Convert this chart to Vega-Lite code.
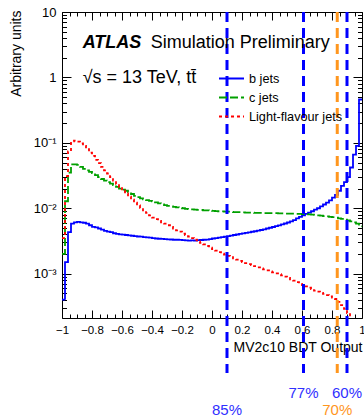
{
"$schema": "https://vega.github.io/schema/vega-lite/v6.json",
"width": 300, "height": 306,
"autosize": "none",
"padding": {"left": 62, "top": 12, "right": 2, "bottom": 100},
"background": "white",
"config": {
  "view": {"stroke": "#000", "strokeWidth": 1},
  "font": "Liberation Sans",
  "axis": {"grid": false, "domain": false, "tickColor": "#000", "labelColor": "#000", "titleColor": "#000", "labelFont": "Liberation Sans", "titleFont": "Liberation Sans", "titleFontWeight": "normal"}
},
"datasets": {
  "h": [
{"x":-1,"b":4.0e-4,"c":2.0e-3,"l":3.5e-3},
{"x":-0.98,"b":1.5e-3,"c":1.28e-2,"l":3.1e-2},
{"x":-0.96,"b":4.3e-3,"c":3.5e-2,"l":7.4e-2},
{"x":-0.94,"b":5.8e-3,"c":4.7e-2,"l":0.105},
{"x":-0.92,"b":6.1e-3,"c":4.7e-2,"l":0.108},
{"x":-0.90,"b":6.2e-3,"c":4.6e-2,"l":0.104},
{"x":-0.88,"b":6.1e-3,"c":4.3e-2,"l":0.098},
{"x":-0.86,"b":6.0e-3,"c":4.0e-2,"l":0.09},
{"x":-0.84,"b":5.8e-3,"c":3.8e-2,"l":0.08},
{"x":-0.82,"b":5.5e-3,"c":3.6e-2,"l":0.071},
{"x":-0.80,"b":5.2e-3,"c":3.45e-2,"l":0.063},
{"x":-0.78,"b":5.1e-3,"c":3.2e-2,"l":0.055},
{"x":-0.76,"b":4.9e-3,"c":3.0e-2,"l":0.049},
{"x":-0.74,"b":4.7e-3,"c":2.8e-2,"l":0.043},
{"x":-0.72,"b":4.5e-3,"c":2.65e-2,"l":0.038},
{"x":-0.70,"b":4.4e-3,"c":2.5e-2,"l":0.034},
{"x":-0.68,"b":4.3e-3,"c":2.38e-2,"l":0.030},
{"x":-0.66,"b":4.15e-3,"c":2.25e-2,"l":0.0265},
{"x":-0.64,"b":4.05e-3,"c":2.12e-2,"l":0.0235},
{"x":-0.62,"b":4.0e-3,"c":2.0e-2,"l":0.021},
{"x":-0.60,"b":3.95e-3,"c":1.92e-2,"l":0.0188},
{"x":-0.58,"b":3.9e-3,"c":1.85e-2,"l":0.0168},
{"x":-0.56,"b":3.85e-3,"c":1.75e-2,"l":0.015},
{"x":-0.54,"b":3.8e-3,"c":1.65e-2,"l":0.0135},
{"x":-0.52,"b":3.75e-3,"c":1.55e-2,"l":0.0122},
{"x":-0.50,"b":3.7e-3,"c":1.48e-2,"l":0.0111},
{"x":-0.48,"b":3.68e-3,"c":1.42e-2,"l":0.0101},
{"x":-0.46,"b":3.62e-3,"c":1.37e-2,"l":0.0093},
{"x":-0.44,"b":3.58e-3,"c":1.33e-2,"l":0.0085},
{"x":-0.42,"b":3.55e-3,"c":1.3e-2,"l":0.0078},
{"x":-0.40,"b":3.5e-3,"c":1.27e-2,"l":0.0072},
{"x":-0.38,"b":3.45e-3,"c":1.23e-2,"l":0.0068},
{"x":-0.36,"b":3.42e-3,"c":1.19e-2,"l":0.0064},
{"x":-0.34,"b":3.4e-3,"c":1.15e-2,"l":0.0061},
{"x":-0.32,"b":3.38e-3,"c":1.12e-2,"l":0.0058},
{"x":-0.30,"b":3.35e-3,"c":1.09e-2,"l":0.0055},
{"x":-0.28,"b":3.33e-3,"c":1.07e-2,"l":0.0052},
{"x":-0.26,"b":3.3e-3,"c":1.05e-2,"l":0.0049},
{"x":-0.24,"b":3.3e-3,"c":1.03e-2,"l":0.0046},
{"x":-0.22,"b":3.28e-3,"c":1.01e-2,"l":0.0044},
{"x":-0.20,"b":3.25e-3,"c":1.0e-2,"l":0.0041},
{"x":-0.18,"b":3.22e-3,"c":9.8e-3,"l":0.0039},
{"x":-0.16,"b":3.2e-3,"c":9.7e-3,"l":0.0037},
{"x":-0.14,"b":3.22e-3,"c":9.6e-3,"l":0.0035},
{"x":-0.12,"b":3.2e-3,"c":9.5e-3,"l":0.0033},
{"x":-0.10,"b":3.25e-3,"c":9.45e-3,"l":0.0031},
{"x":-0.08,"b":3.27e-3,"c":9.4e-3,"l":0.00295},
{"x":-0.06,"b":3.3e-3,"c":9.3e-3,"l":0.0028},
{"x":-0.04,"b":3.32e-3,"c":9.25e-3,"l":0.00265},
{"x":-0.02,"b":3.38e-3,"c":9.2e-3,"l":0.0025},
{"x":0.00,"b":3.45e-3,"c":9.1e-3,"l":0.00237},
{"x":0.02,"b":3.5e-3,"c":9.05e-3,"l":0.00225},
{"x":0.04,"b":3.55e-3,"c":9.0e-3,"l":0.00213},
{"x":0.06,"b":3.62e-3,"c":8.95e-3,"l":0.00203},
{"x":0.08,"b":3.68e-3,"c":8.9e-3,"l":0.00195},
{"x":0.10,"b":3.75e-3,"c":8.85e-3,"l":0.00187},
{"x":0.12,"b":3.82e-3,"c":8.8e-3,"l":0.00179},
{"x":0.14,"b":3.9e-3,"c":8.75e-3,"l":0.00171},
{"x":0.16,"b":3.97e-3,"c":8.7e-3,"l":0.00164},
{"x":0.18,"b":4.05e-3,"c":8.7e-3,"l":0.00157},
{"x":0.20,"b":4.12e-3,"c":8.65e-3,"l":0.0015},
{"x":0.22,"b":4.2e-3,"c":8.6e-3,"l":0.00145},
{"x":0.24,"b":4.28e-3,"c":8.55e-3,"l":0.0014},
{"x":0.26,"b":4.37e-3,"c":8.55e-3,"l":0.00135},
{"x":0.28,"b":4.45e-3,"c":8.5e-3,"l":0.0013},
{"x":0.30,"b":4.55e-3,"c":8.5e-3,"l":0.00125},
{"x":0.32,"b":4.65e-3,"c":8.5e-3,"l":0.0012},
{"x":0.34,"b":4.77e-3,"c":8.45e-3,"l":0.00116},
{"x":0.36,"b":4.9e-3,"c":8.45e-3,"l":0.00112},
{"x":0.38,"b":5.03e-3,"c":8.4e-3,"l":0.00108},
{"x":0.40,"b":5.17e-3,"c":8.4e-3,"l":0.00105},
{"x":0.42,"b":5.32e-3,"c":8.4e-3,"l":0.00101},
{"x":0.44,"b":5.48e-3,"c":8.35e-3,"l":0.00098},
{"x":0.46,"b":5.65e-3,"c":8.35e-3,"l":0.00094},
{"x":0.48,"b":5.85e-3,"c":8.3e-3,"l":0.0009},
{"x":0.50,"b":6.05e-3,"c":8.3e-3,"l":0.00086},
{"x":0.52,"b":6.3e-3,"c":8.3e-3,"l":0.00082},
{"x":0.54,"b":6.6e-3,"c":8.25e-3,"l":0.00078},
{"x":0.56,"b":7.0e-3,"c":8.2e-3,"l":0.00074},
{"x":0.58,"b":7.4e-3,"c":8.2e-3,"l":0.0007},
{"x":0.60,"b":7.8e-3,"c":8.15e-3,"l":0.00067},
{"x":0.62,"b":8.2e-3,"c":8.1e-3,"l":0.00064},
{"x":0.64,"b":8.6e-3,"c":8.05e-3,"l":0.00061},
{"x":0.66,"b":9.0e-3,"c":8.0e-3,"l":0.00058},
{"x":0.68,"b":9.5e-3,"c":7.9e-3,"l":0.00055},
{"x":0.70,"b":1.0e-2,"c":7.8e-3,"l":0.00053},
{"x":0.72,"b":1.07e-2,"c":7.7e-3,"l":0.00051},
{"x":0.74,"b":1.14e-2,"c":7.6e-3,"l":0.00049},
{"x":0.76,"b":1.22e-2,"c":7.5e-3,"l":0.00047},
{"x":0.78,"b":1.32e-2,"c":7.4e-3,"l":0.00045},
{"x":0.80,"b":1.45e-2,"c":7.3e-3,"l":0.00043},
{"x":0.82,"b":1.6e-2,"c":7.2e-3,"l":0.00041},
{"x":0.84,"b":1.85e-2,"c":7.0e-3,"l":0.00037},
{"x":0.86,"b":2.2e-2,"c":6.9e-3,"l":0.00033},
{"x":0.88,"b":2.5e-2,"c":6.7e-3,"l":0.00029},
{"x":0.90,"b":3.0e-2,"c":6.5e-3,"l":0.00025},
{"x":0.92,"b":4.2e-2,"c":6.3e-3,"l":0.00018},
{"x":0.94,"b":6.6e-2,"c":6.1e-3,"l":0.00013},
{"x":0.96,"b":9.0e-2,"c":5.8e-3,"l":0.0001},
{"x":0.98,"b":0.46,"c":5.3e-3,"l":0.00008},
{"x":1.00,"b":0.46,"c":5.3e-3,"l":0.00008}
  ],
  "wp": [
    {"cut": 0.1, "eff": "85%"},
    {"cut": 0.61, "eff": "77%"},
    {"cut": 0.835, "eff": "70%"},
    {"cut": 0.9, "eff": "60%"}
  ]
},
"resolve": {"axis": {"x": "independent", "y": "independent"}},
"layer": [
  {
    "data": {"name": "h"},
    "transform": [{"fold": ["b", "c", "l"], "as": ["flavour", "frac"]}],
    "mark": {"type": "line", "interpolate": "step-after", "strokeWidth": 1.8, "clip": true},
    "encoding": {
      "x": {"field": "x", "type": "quantitative", "scale": {"domain": [-1, 1], "nice": false, "zero": false},
        "axis": {"orient": "bottom", "values": [-1, -0.8, -0.6, -0.4, -0.2, 0, 0.2, 0.4, 0.6, 0.8, 1], "format": ".1~f", "tickSize": -8, "labelPadding": 14, "labelFontSize": 11.5, "labelFlush": false, "labelOverlap": false,
          "title": "MV2c10 BDT Output", "titleFontSize": 14, "titleAnchor": "end", "titleAlign": "right", "titleBaseline": "middle", "titleX": 300, "titleY": 29}},
      "y": {"field": "frac", "type": "quantitative", "scale": {"type": "log", "domain": [0.00021, 10], "nice": false},
        "axis": {"orient": "left", "values": [0.001, 0.01, 0.1, 1, 10], "tickSize": -9, "labelPadding": 15, "labelFontSize": 13, "labelOverlap": false, "labelFlush": false,
          "labelExpr": "datum.value >= 9 ? '10' : datum.value >= 0.9 ? '1' : datum.value >= 0.09 ? '10⁻¹' : datum.value >= 0.009 ? '10⁻²' : '10⁻³'",
          "title": "Arbitrary units", "titleFontSize": 14, "titleAngle": -90, "titleAnchor": "end", "titleAlign": "right", "titleBaseline": "middle", "titleX": -46, "titleY": -2}},
      "color": {"field": "flavour", "type": "nominal", "scale": {"domain": ["b", "c", "l"], "range": ["#0000ff", "#00a000", "#ff0000"]},
        "legend": {"title": null, "orient": "none", "legendX": 156, "legendY": 57, "direction": "vertical", "symbolType": "stroke", "symbolSize": 625, "symbolStrokeWidth": 1.8, "labelFontSize": 12.7, "labelFont": "Liberation Sans", "labelColor": "#000", "labelOffset": 4, "clipHeight": 19, "rowPadding": 0, "padding": 0,
          "labelExpr": "datum.label == 'b' ? 'b jets' : datum.label == 'c' ? 'c jets' : 'Light-flavour jets'"}},
      "strokeDash": {"field": "flavour", "type": "nominal", "scale": {"domain": ["b", "c", "l"], "range": [[1, 0], [8, 3], [3, 3]]},
        "legend": {"title": null, "orient": "none", "legendX": 156, "legendY": 57, "direction": "vertical", "symbolType": "stroke", "symbolSize": 625, "symbolStrokeWidth": 1.8, "labelFontSize": 12.7, "labelFont": "Liberation Sans", "labelColor": "#000", "labelOffset": 4, "clipHeight": 19, "rowPadding": 0, "padding": 0,
          "labelExpr": "datum.label == 'b' ? 'b jets' : datum.label == 'c' ? 'c jets' : 'Light-flavour jets'"}}
    }
  },
  {
    "data": {"name": "wp"},
    "mark": {"type": "rule", "strokeWidth": 3, "strokeDash": [10, 6], "clip": false},
    "encoding": {
      "x": {"field": "cut", "type": "quantitative", "scale": {"domain": [-1, 1], "nice": false, "zero": false},
        "axis": {"orient": "bottom", "values": [-0.95,-0.9,-0.85,-0.75,-0.7,-0.65,-0.55,-0.5,-0.45,-0.35,-0.3,-0.25,-0.15,-0.1,-0.05,0.05,0.1,0.15,0.25,0.3,0.35,0.45,0.5,0.55,0.65,0.7,0.75,0.85,0.9,0.95], "tickSize": -4, "labels": false, "title": null}},
      "y": {"datum": 10, "type": "quantitative", "scale": {"type": "log", "domain": [0.00021, 10], "nice": false},
        "axis": {"orient": "left", "values": [0.0003,0.0004,0.0005,0.0006,0.0007,0.0008,0.0009,0.002,0.003,0.004,0.005,0.006,0.007,0.008,0.009,0.02,0.03,0.04,0.05,0.06,0.07,0.08,0.09,0.2,0.3,0.4,0.5,0.6,0.7,0.8,0.9,2,3,4,5,6,7,8,9], "tickSize": -4.5, "labels": false, "title": null}},
      "y2": {"datum": 0.0000304},
      "color": {"condition": {"test": "datum.eff === '70%'", "value": "#ff961e"}, "value": "#0000ff"}
    }
  },
  {
    "data": {"name": "wp"},
    "transform": [{"filter": {"field": "eff", "oneOf": ["85%", "70%"]}}],
    "mark": {"type": "text", "fontSize": 15, "align": "center", "baseline": "middle", "clip": false},
    "encoding": {
      "x": {"field": "cut", "type": "quantitative", "scale": {"domain": [-1, 1], "nice": false, "zero": false},
        "axis": {"orient": "top", "values": [-1, -0.8, -0.6, -0.4, -0.2, 0, 0.2, 0.4, 0.6, 0.8, 1], "tickSize": -8, "labels": false, "title": null}},
      "y": {"datum": 0.0000083, "type": "quantitative", "scale": {"type": "log", "domain": [0.00021, 10], "nice": false},
        "axis": {"orient": "right", "values": [0.001, 0.01, 0.1, 1, 10], "tickSize": -9, "labels": false, "title": null}},
      "text": {"field": "eff"},
      "color": {"condition": {"test": "datum.eff === '70%'", "value": "#ff961e"}, "value": "#3030ff"}
    }
  },
  {
    "data": {"name": "wp"},
    "transform": [{"filter": {"field": "eff", "oneOf": ["77%", "60%"]}}],
    "mark": {"type": "text", "fontSize": 15, "align": "center", "baseline": "middle", "clip": false},
    "encoding": {
      "x": {"field": "cut", "type": "quantitative", "scale": {"domain": [-1, 1], "nice": false, "zero": false},
        "axis": {"orient": "top", "values": [-0.95,-0.9,-0.85,-0.75,-0.7,-0.65,-0.55,-0.5,-0.45,-0.35,-0.3,-0.25,-0.15,-0.1,-0.05,0.05,0.1,0.15,0.25,0.3,0.35,0.45,0.5,0.55,0.65,0.7,0.75,0.85,0.9,0.95], "tickSize": -4, "labels": false, "title": null}},
      "y": {"datum": 0.000015, "type": "quantitative", "scale": {"type": "log", "domain": [0.00021, 10], "nice": false},
        "axis": {"orient": "right", "values": [0.0003,0.0004,0.0005,0.0006,0.0007,0.0008,0.0009,0.002,0.003,0.004,0.005,0.006,0.007,0.008,0.009,0.02,0.03,0.04,0.05,0.06,0.07,0.08,0.09,0.2,0.3,0.4,0.5,0.6,0.7,0.8,0.9,2,3,4,5,6,7,8,9], "tickSize": -4.5, "labels": false, "title": null}},
      "text": {"field": "eff"},
      "color": {"value": "#3030ff"}
    }
  },
  {
    "data": {"values": [{"t": "ATLAS"}]},
    "mark": {"type": "text", "fontSize": 18, "fontWeight": "bold", "fontStyle": "italic", "align": "left", "baseline": "alphabetic", "color": "#000"},
    "encoding": {
      "x": {"datum": -0.862, "type": "quantitative", "axis": null},
      "y": {"datum": 2.79, "type": "quantitative", "axis": null},
      "text": {"field": "t"}
    }
  },
  {
    "data": {"values": [{"t": "Simulation Preliminary"}]},
    "mark": {"type": "text", "fontSize": 18, "align": "left", "baseline": "alphabetic", "color": "#000"},
    "encoding": {
      "x": {"datum": -0.409, "type": "quantitative", "axis": null},
      "y": {"datum": 2.79, "type": "quantitative", "axis": null},
      "text": {"field": "t"}
    }
  },
  {
    "data": {"values": [{"t": "√s = 13 TeV, tt̄"}]},
    "mark": {"type": "text", "fontSize": 18, "align": "left", "baseline": "alphabetic", "color": "#000"},
    "encoding": {
      "x": {"datum": -0.862, "type": "quantitative", "axis": null},
      "y": {"datum": 0.828, "type": "quantitative", "axis": null},
      "text": {"field": "t"}
    }
  }
]
}
